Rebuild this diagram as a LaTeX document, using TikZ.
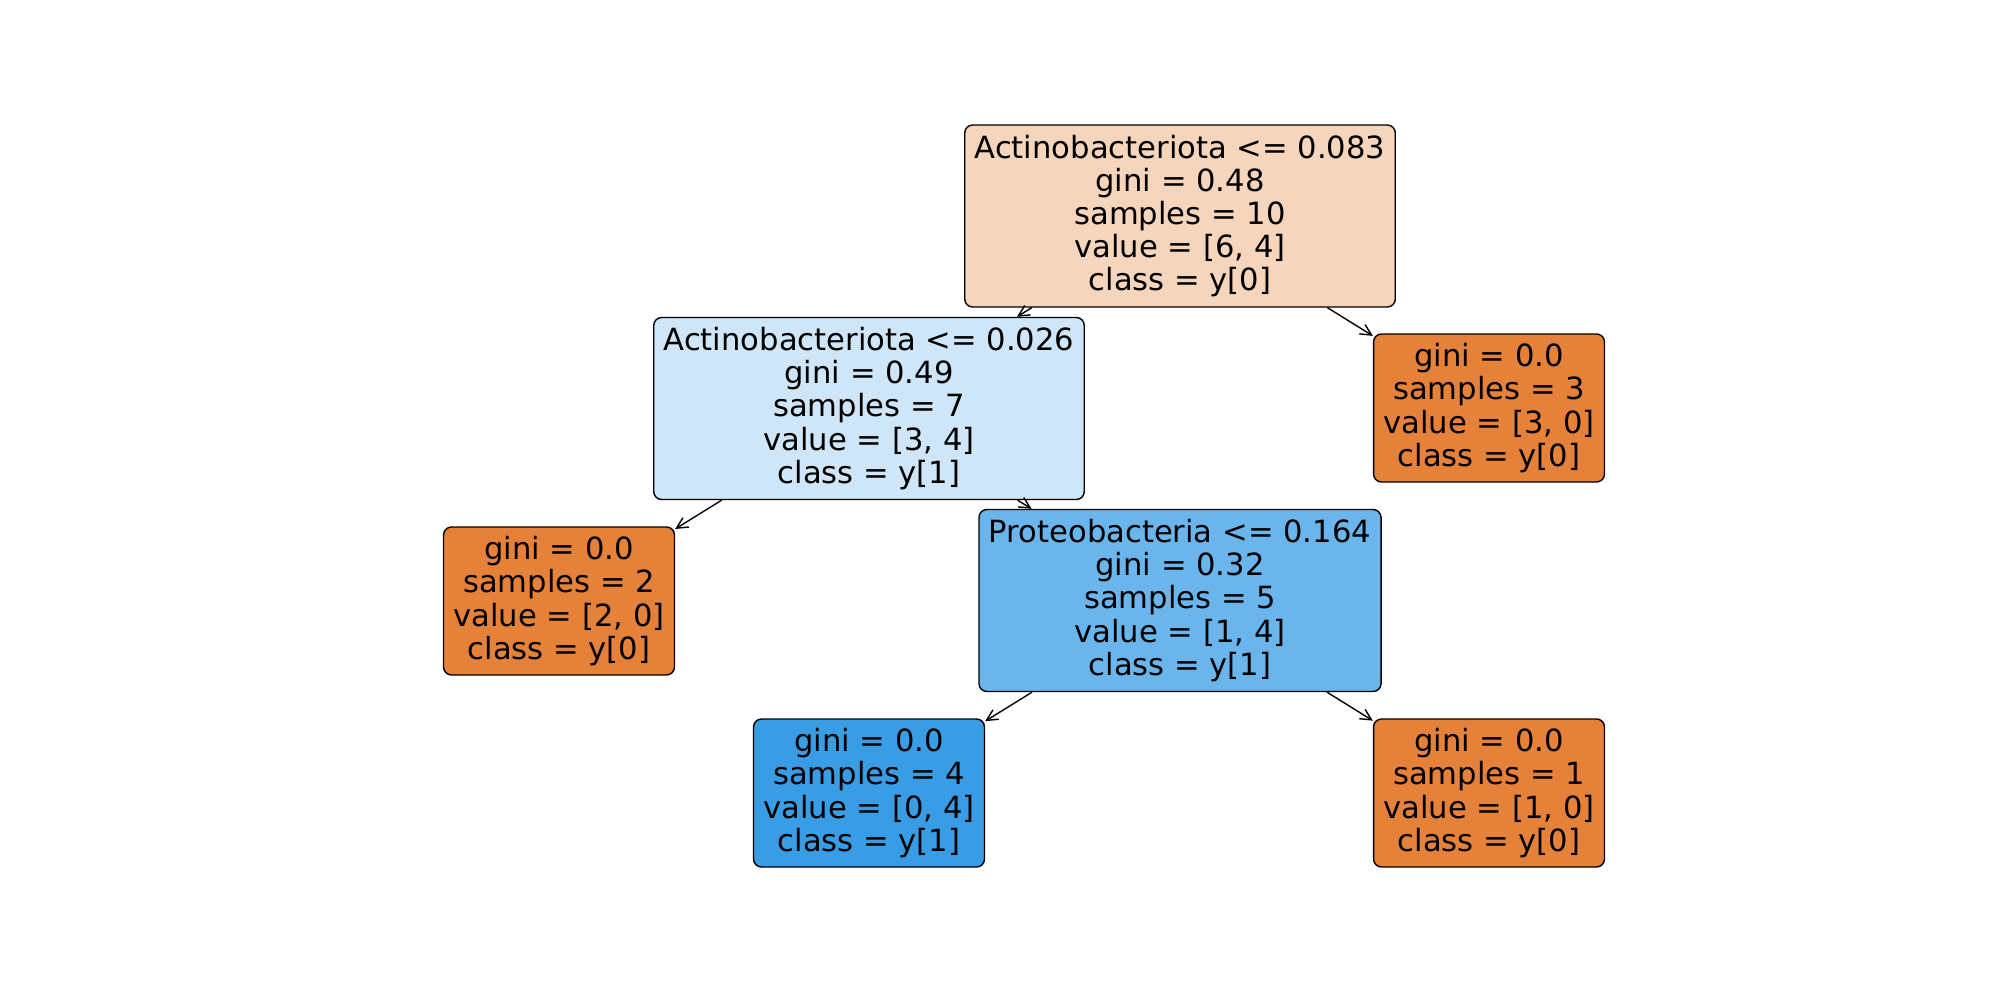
\documentclass[tikz,border=0pt]{standalone}
\usepackage{fontspec}
\setmainfont{DejaVu Sans}
\usepackage{tikz}
\usetikzlibrary{arrows.meta}
\usepackage{xcolor}
\definecolor{rootfill}{HTML}{F6D5BD}
\definecolor{lightblue}{HTML}{CEE6F8}
\definecolor{midblue}{HTML}{6AB6EC}
\definecolor{leaforange}{HTML}{E58139}
\definecolor{leafblue}{HTML}{399DE5}

\begin{document}
\begin{tikzpicture}[x=0.5pt, y=-0.5pt,
                decision/.style={rectangle, rounded corners=4pt, draw, line width=0.7pt, align=center, inner xsep=5pt, minimum height=91pt, font=\fontsize{15.3}{16.6}\selectfont},
                leaf/.style={decision, minimum height=74pt},
                >={Straight Barb[length=5.5pt, width=5.5pt]}]
                \useasboundingbox (0, 0) rectangle (2000, 1000);
                \node[decision, fill=rootfill] (root) at (1180, 216) {Actinobacteriota <= 0.083\\gini = 0.48\\samples = 10\\value = [6, 4]\\class = y[0]};
                \node[decision, fill=lightblue] (A) at (869, 408.5) {Actinobacteriota <= 0.026\\gini = 0.49\\samples = 7\\value = [3, 4]\\class = y[1]};
                \node[leaf, fill=leaforange] (R) at (1489, 408) {gini = 0.0\\samples = 3\\value = [3, 0]\\class = y[0]};
                \node[leaf, fill=leaforange] (AL) at (559, 601) {gini = 0.0\\samples = 2\\value = [2, 0]\\class = y[0]};
                \node[decision, fill=midblue] (P) at (1180, 600.5) {Proteobacteria <= 0.164\\gini = 0.32\\samples = 5\\value = [1, 4]\\class = y[1]};
                \node[leaf, fill=leafblue] (PL) at (869, 793) {gini = 0.0\\samples = 4\\value = [0, 4]\\class = y[1]};
                \node[leaf, fill=leaforange] (PR) at (1489, 793) {gini = 0.0\\samples = 1\\value = [1, 0]\\class = y[0]};
                \draw[->, line width=0.7pt] (root) -- (A);
                \draw[->, line width=0.7pt] (root) -- (R);
                \draw[->, line width=0.7pt] (A) -- (AL);
                \draw[->, line width=0.7pt] (A) -- (P);
                \draw[->, line width=0.7pt] (P) -- (PL);
                \draw[->, line width=0.7pt] (P) -- (PR);
            \end{tikzpicture}
\end{document}
